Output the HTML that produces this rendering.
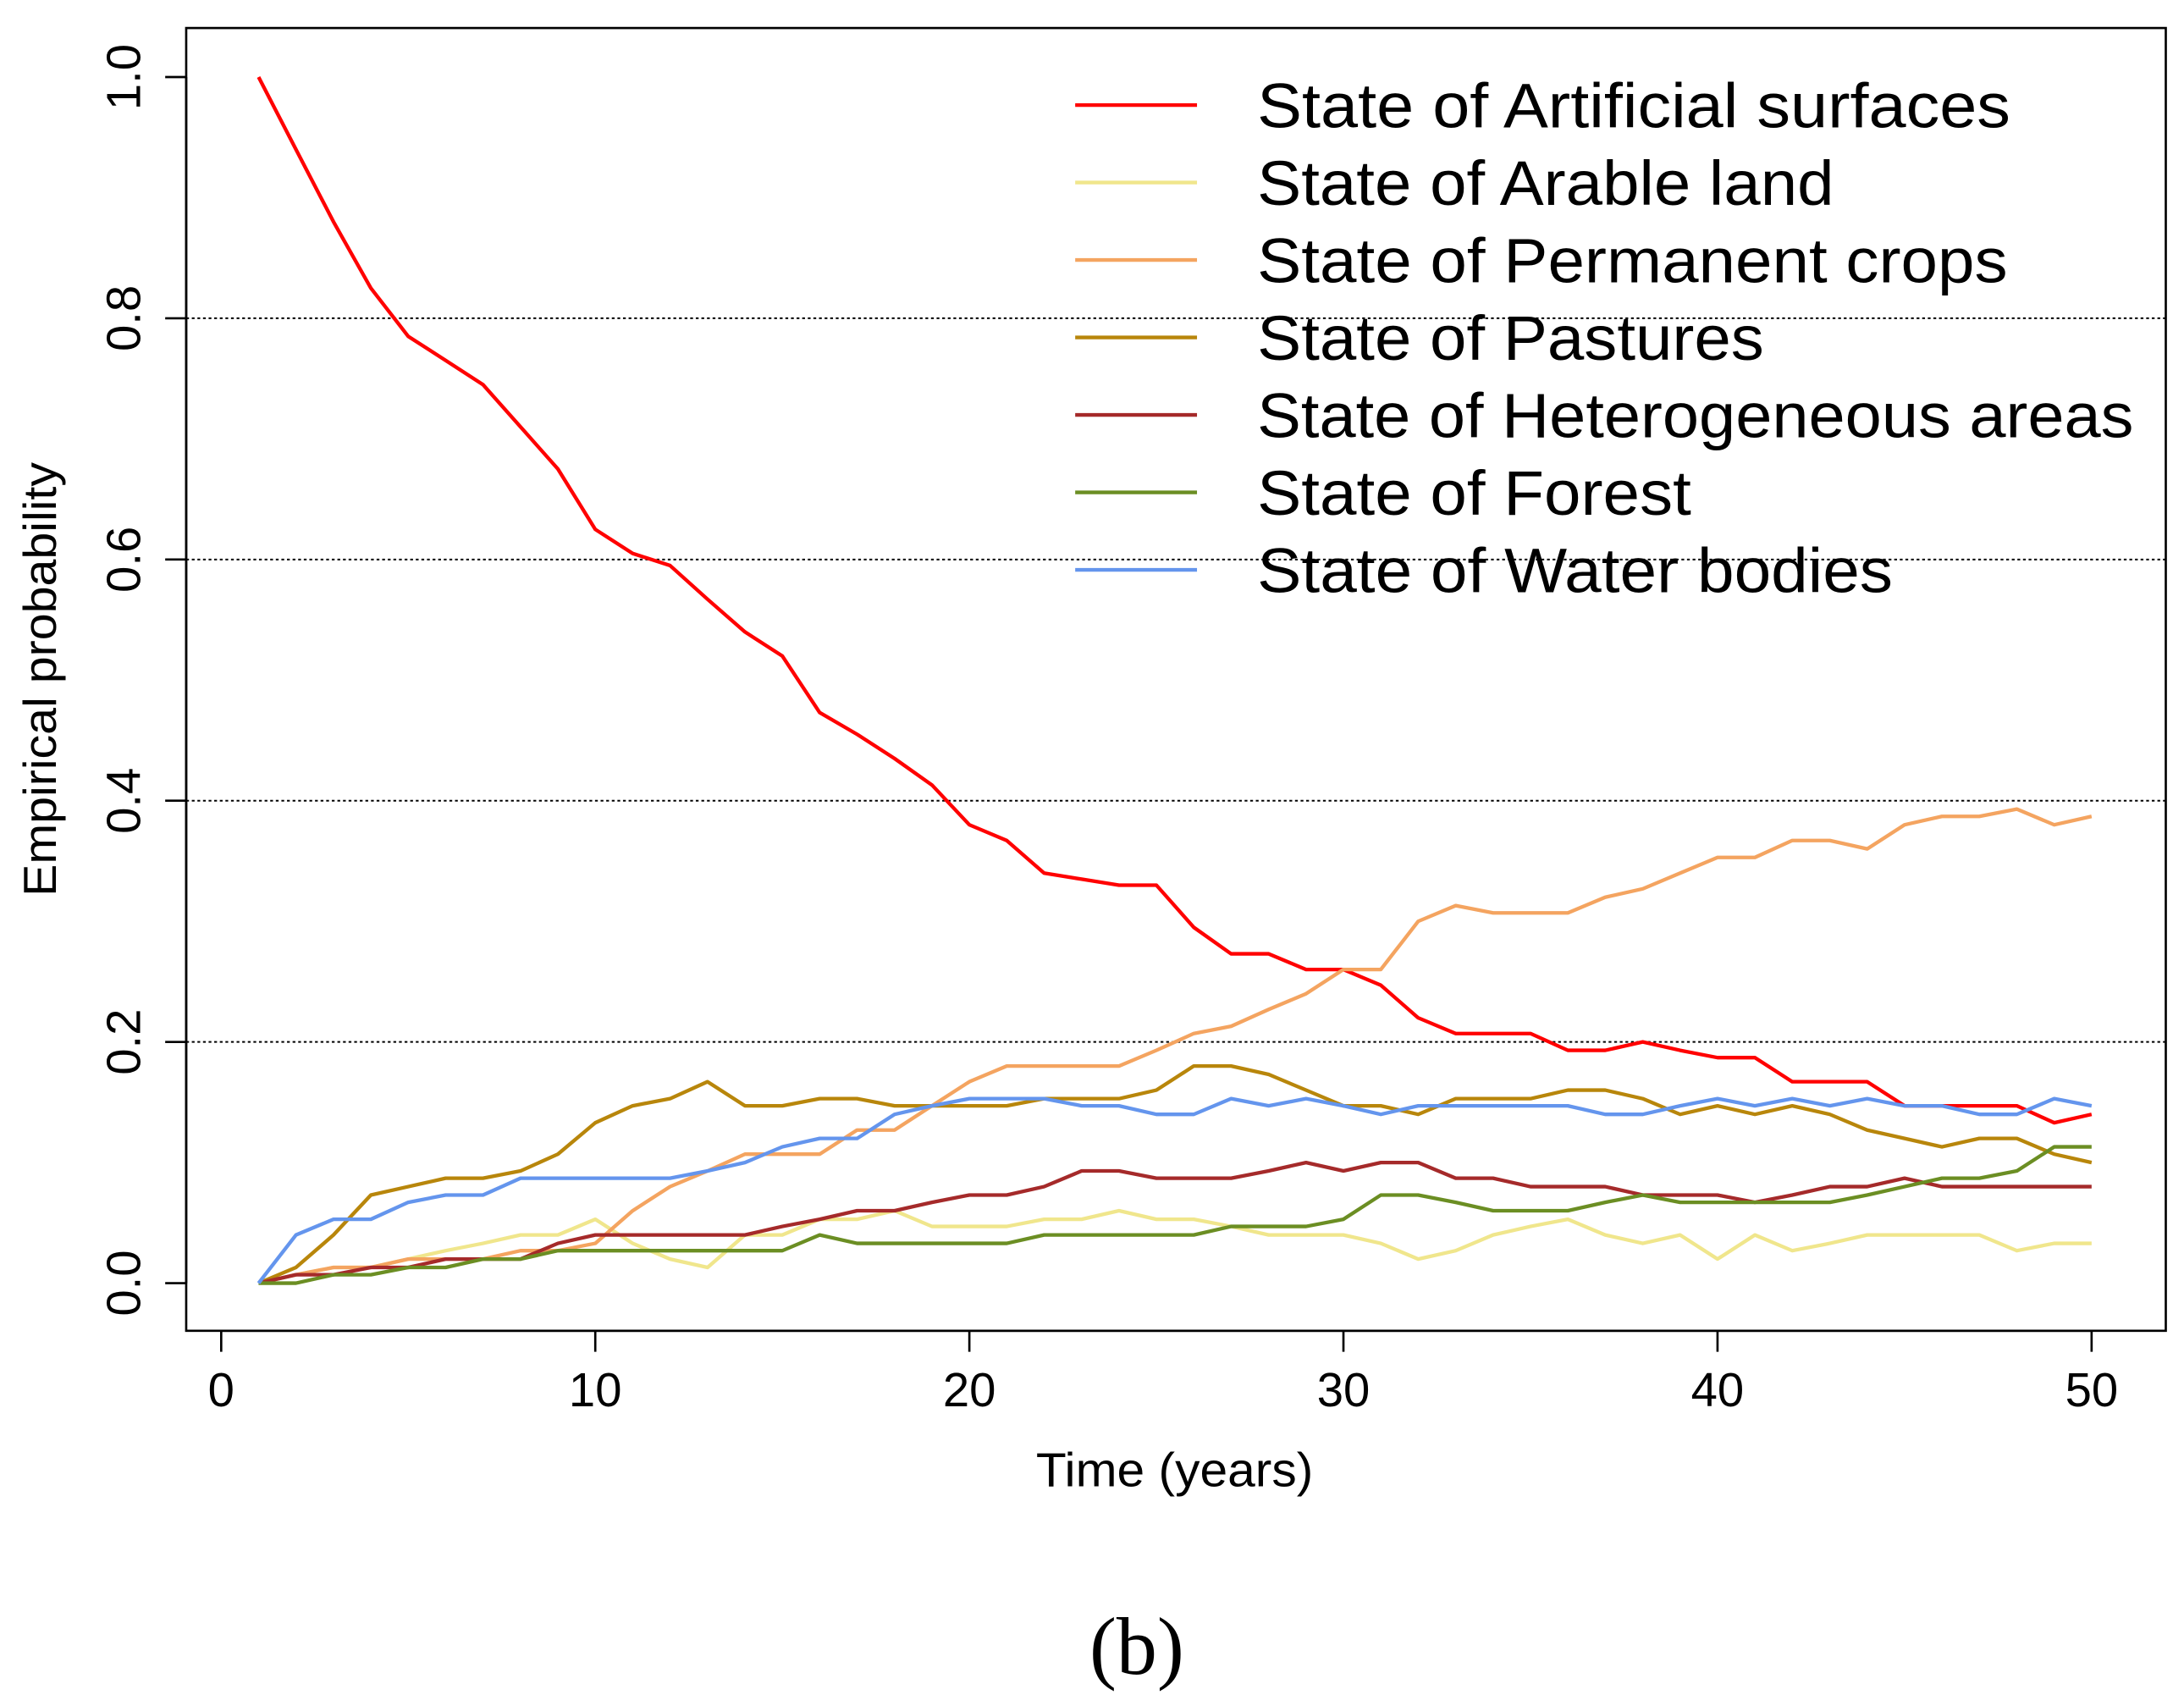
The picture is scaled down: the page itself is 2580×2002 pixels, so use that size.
<!DOCTYPE html>
<html><head><meta charset="utf-8"><style>
html,body{margin:0;padding:0;background:#fff;}
svg{display:block;}
text{font-family:"Liberation Sans",Arial,sans-serif;}
</style></head><body>
<svg id="chart" width="2580" height="2002" viewBox="0 0 1560 1210" preserveAspectRatio="none" xmlns="http://www.w3.org/2000/svg">
<rect x="133" y="20" width="1414" height="930" fill="none" stroke="#000" stroke-width="1.6"/>
<g id="grid"></g>
<g id="axes"></g>
<g id="series"></g>
<g id="legend"></g>
<text x="40" y="485" font-size="33" text-anchor="middle" textLength="310" lengthAdjust="spacingAndGlyphs" transform="rotate(-90 40 485)">Empirical probability</text>
<text x="839" y="1061" font-size="34" text-anchor="middle" textLength="198" lengthAdjust="spacingAndGlyphs">Time (years)</text>
<text x="812" y="1195" font-size="58" text-anchor="middle" style="font-family:'Liberation Serif',serif">(b)</text>
</svg>
<script>
const xTicks = [0,10,20,30,40,50];
const yTicks = [0.0,0.2,0.4,0.6,0.8,1.0];
const yTickLabels = ["0.0","0.2","0.4","0.6","0.8","1.0"];
const gridValues = [0.2,0.4,0.6,0.8];
const seriesNames = ["State of Artificial surfaces","State of Arable land","State of Permanent crops","State of Pastures","State of Heterogeneous areas","State of Forest","State of Water bodies"];
const seriesColors = ["#FF0000","#F0E68C","#F4A460","#B8860B","#A52A2A","#6B8E23","#6495ED"];
const artificial = [1.0,.94,.88,.825,.785,.765,.745,.71,.675,.625,.605,.595,.567,.54,.52,.473,.455,.435,.413,.38,.367,.34,.335,.33,.33,.295,.273,.273,.26,.26,.247,.22,.207,.207,.207,.193,.193,.2,.193,.187,.187,.167,.167,.167,.147,.147,.147,.147,.133,.14];
const arable = [0,.007,.013,.013,.02,.027,.033,.04,.04,.053,.033,.02,.013,.04,.04,.053,.053,.06,.047,.047,.047,.053,.053,.06,.053,.053,.047,.04,.04,.04,.033,.02,.027,.04,.047,.053,.04,.033,.04,.02,.04,.027,.033,.04,.04,.04,.04,.027,.033,.033];
const permanent = [0,.007,.013,.013,.02,.02,.02,.027,.027,.033,.06,.08,.093,.107,.107,.107,.127,.127,.147,.167,.18,.18,.18,.18,.193,.207,.213,.227,.24,.26,.26,.3,.313,.307,.307,.307,.32,.327,.34,.353,.353,.367,.367,.36,.38,.387,.387,.393,.38,.387];
const pastures = [0,.013,.04,.073,.08,.087,.087,.093,.107,.133,.147,.153,.167,.147,.147,.153,.153,.147,.147,.147,.147,.153,.153,.153,.16,.18,.18,.173,.16,.147,.147,.14,.153,.153,.153,.16,.16,.153,.14,.147,.14,.147,.14,.127,.12,.113,.12,.12,.107,.1];
const heterogeneous = [0,.007,.007,.013,.013,.02,.02,.02,.033,.04,.04,.04,.04,.04,.047,.053,.06,.06,.067,.073,.073,.08,.093,.093,.087,.087,.087,.093,.1,.093,.1,.1,.087,.087,.08,.08,.08,.073,.073,.073,.067,.073,.08,.08,.087,.08,.08,.08,.08,.08];
const forest = [0,0,.007,.007,.013,.013,.02,.02,.027,.027,.027,.027,.027,.027,.027,.04,.033,.033,.033,.033,.033,.04,.04,.04,.04,.04,.047,.047,.047,.053,.073,.073,.067,.06,.06,.06,.067,.073,.067,.067,.067,.067,.067,.073,.08,.087,.087,.093,.113,.113];
const water = [0,.04,.053,.053,.067,.073,.073,.087,.087,.087,.087,.087,.093,.1,.113,.12,.12,.14,.147,.153,.153,.153,.147,.147,.14,.14,.153,.147,.153,.147,.14,.147,.147,.147,.147,.147,.14,.14,.147,.153,.147,.153,.147,.153,.147,.147,.14,.14,.153,.147];
const allSeries = [artificial,arable,permanent,pastures,heterogeneous,forest,water];
const legendWidths = [538,412,536,362,626,310,454];

const NS="http://www.w3.org/2000/svg";
const xS = v => 158 + v*26.72;
const yS = v => 916 - v*861;
function mk(tag, attrs, parent){const e=document.createElementNS(NS,tag);for(const k in attrs)e.setAttribute(k,attrs[k]);parent.appendChild(e);return e;}
const grid=document.getElementById('grid'), axes=document.getElementById('axes'), ser=document.getElementById('series'), leg=document.getElementById('legend');
gridValues.forEach(v=>{
  const l=mk('line',{x1:133,x2:1547,y1:yS(v),y2:yS(v),stroke:'#000','stroke-width':1.2,'stroke-dasharray':'2,2'},grid);
  
  
});
mk('line',{x1:xS(0),x2:xS(50),y1:950,y2:950,stroke:'#000','stroke-width':1.6},axes);
xTicks.forEach(v=>{
  const t=mk('line',{x1:xS(v),x2:xS(v),y1:950,y2:965,stroke:'#000','stroke-width':1.6},axes);
  
  
  const tx=mk('text',{x:xS(v),y:1004,'font-size':34,'text-anchor':'middle'},axes);
  tx.textContent=v;
  
  
});
mk('line',{x1:133,x2:133,y1:yS(0),y2:yS(1),stroke:'#000','stroke-width':1.6},axes);
yTicks.forEach((v,i)=>{
  const t=mk('line',{x1:118,x2:133,y1:yS(v),y2:yS(v),stroke:'#000','stroke-width':1.6},axes);
  
  
  const tx=mk('text',{x:100,y:yS(v),'font-size':34,'text-anchor':'middle',transform:`rotate(-90 100 ${yS(v)})`},axes);
  tx.textContent=yTickLabels[i];
  
  
});
[1,0,2,3,4,5,6].forEach(si=>{
  const d=allSeries[si].map((v,i)=>(i?'L':'M')+xS(i+1).toFixed(1)+','+yS(v).toFixed(1)).join(' ');
  const p=mk('path',{d:d,fill:'none',stroke:seriesColors[si],'stroke-width':2.6,'stroke-linejoin':'round'},ser);
  
  
});
seriesNames.forEach((n,i)=>{
  const y=75+i*55.3;
  const l=mk('line',{x1:768,x2:855,y1:y,y2:y,stroke:seriesColors[i],'stroke-width':2.6},leg);
  
  
  const t=mk('text',{x:898,y:y+16,'font-size':45,textLength:legendWidths[i],lengthAdjust:'spacingAndGlyphs'},leg);
  t.textContent=n;
  
  
});
</script>
</body></html>
